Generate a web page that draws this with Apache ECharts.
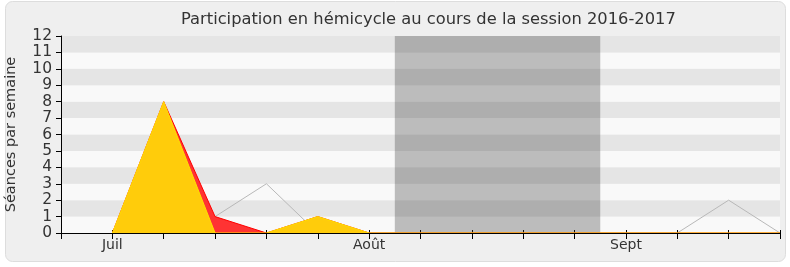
<!DOCTYPE html>
<html><head><meta charset="utf-8">
<script src="https://cdn.jsdelivr.net/npm/echarts@6/dist/echarts.min.js"></script>
<style>html,body{margin:0;padding:0;background:#fff}#c{width:790px;height:267px}</style>
</head><body><div id="c"></div>
<script>
const title = "Participation en hémicycle au cours de la session 2016-2017";
const yAxisName = "Séances par semaine";
const weeks = [0,1,2,3,4,5,6,7,8,9,10,11,12,13,14];
const tickLabels = {1:"Juil", 6:"Août", 11:"Sept"};
const presence = [null,0,8,1,0,1,0,0,0,0,0,0,0,0,0];
const interventions = [null,0,8,0,0,1,0,0,0,0,0,0,0,0,0];
const mediane = [null,0,2,1,3,0,0,0,0,0,0,0,0,2,0];
const vacances = [[6.5,10.5]];

const pair = a => weeks.map((w,i)=>[w,a[i]]);
const chart = echarts.init(document.getElementById('c'), null, {renderer:'canvas'});
const font = "DejaVu Sans";
chart.setOption({
  animation:false,
  backgroundColor:'#ffffff',
  graphic:[{type:'rect', z:-10, shape:{x:5.5,y:1.5,width:780,height:260,r:7},
    style:{fill:'#efefef', stroke:'#dddddd', lineWidth:1}}],
  title:{text:title, left:176, top:7,
    textStyle:{fontFamily:font, fontSize:16.3, fontWeight:'normal', color:'#333'}},
  grid:{left:61, right:10, top:36, bottom:34, containLabel:false, outerBoundsMode:'none'},
  xAxis:[{type:'value', min:0, max:14, interval:1,
    axisLine:{show:true, lineStyle:{color:'#000', width:1}, onZero:false},
    axisTick:{show:true, length:6, lineStyle:{color:'#000'}},
    axisLabel:{fontFamily:font, fontSize:14, color:'#333', margin:5,
      formatter:v=>tickLabels[v]||''},
    splitLine:{show:false}, z:10},
   {type:'value', position:'top', min:0, max:14, interval:1,
    axisLine:{show:false}, axisTick:{show:true, inside:false, length:3, lineStyle:{color:'#000'}},
    axisLabel:{show:false}, splitLine:{show:false}}],
  yAxis:{type:'value', min:0, max:12, interval:1, name:yAxisName, nameLocation:'middle',
    nameGap:42, nameTextStyle:{fontFamily:font, fontSize:14.5, color:'#333'},
    axisLine:{show:true, lineStyle:{color:'#000'}},
    axisTick:{show:true, length:5, lineStyle:{color:'#000'}},
    axisLabel:{fontFamily:font, fontSize:15.5, color:'#333', margin:9},
    splitLine:{show:false},
    splitArea:{show:true, areaStyle:{color:['#f9f9f9','#e5e5e5']}}},
  series:[
    {type:'line', data:pair(mediane), symbol:'none', lineStyle:{color:'#b8b8b8', width:1}, z:2,
     markArea:{silent:true, itemStyle:{color:'rgba(46,46,46,0.3)'},
       data:vacances.map(v=>[{xAxis:v[0], yAxis:12},{xAxis:v[1], yAxis:0}])}},
    {type:'line', data:pair(presence), symbol:'none', lineStyle:{color:'#ff0000', width:1},
     areaStyle:{color:'#ff3333', opacity:1}, z:3},
    {type:'line', data:pair(interventions), symbol:'none', lineStyle:{color:'#ffe000', width:1},
     areaStyle:{color:'#ffd20a', opacity:0.97}, z:4}
  ]
});
</script></body></html>
